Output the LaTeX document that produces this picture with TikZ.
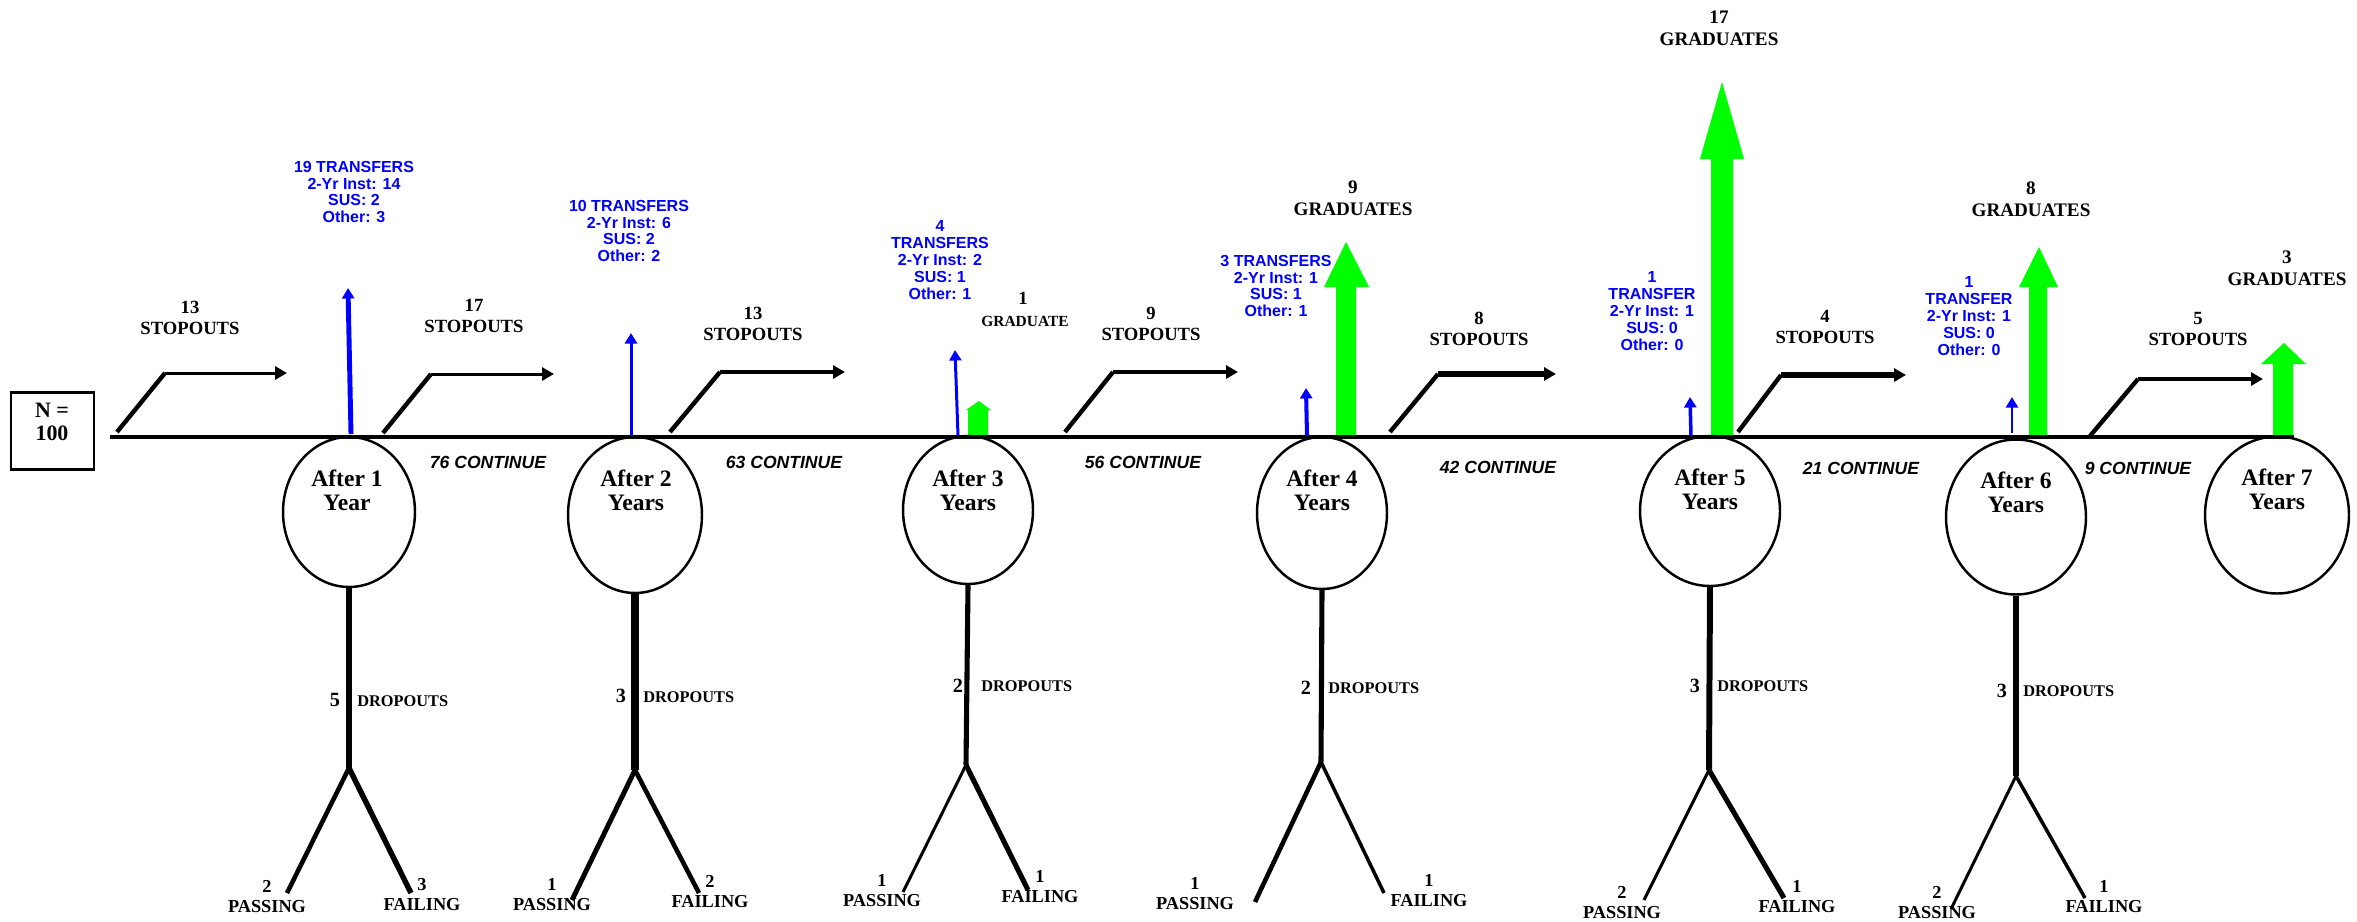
\documentclass[tikz,border=0pt]{standalone}
\usepackage{fontspec}
\setmainfont{Liberation Serif}
\newfontfamily\arialf{Liberation Sans}
\usetikzlibrary{arrows.meta,shapes.geometric}
\definecolor{tblue}{RGB}{0,0,255}
\definecolor{ggreen}{RGB}{0,255,0}
\begin{document}
\begin{tikzpicture}[x=0.02cm,y=-0.02cm,
  mainline/.style={line width=2.3pt},
  yearell/.style={ellipse, draw, line width=1.4pt, inner sep=0pt},
  yeartxt/.style={font=\bfseries\fontsize{13.4}{13.7}\selectfont, align=center, inner sep=0pt},
  ntxt/.style={font=\bfseries\fontsize{12.5}{13.5}\selectfont, align=center, inner sep=0pt},
  stoptxt/.style={font=\bfseries\fontsize{10.6}{12}\selectfont, align=center, inner sep=0pt},
  gradtxt/.style={font=\bfseries\fontsize{10.9}{12.5}\selectfont, align=center, inner sep=0pt},
  stopdiag/.style={line width=2.5pt},
  stoparr/.style={-{Triangle[width=0.26cm,length=0.24cm]}},
  tarrow/.style={draw=tblue, -{Triangle[width=0.24cm,length=0.21cm]}},
  ttxt/.style={text=tblue, font=\arialf\bfseries\fontsize{9.1}{9.6}\selectfont, align=center, inner sep=0pt},
  contxt/.style={font=\arialf\bfseries\itshape\fontsize{10}{12}\selectfont, inner sep=0pt},
  grad/.style={fill=ggreen, draw=none},
  droptxt/.style={font=\bfseries\fontsize{9.3}{10}\selectfont, anchor=west, inner sep=0pt},
  dropnum/.style={font=\bfseries\fontsize{11.5}{12}\selectfont, inner sep=0pt},
  pftxt/.style={font=\bfseries\fontsize{10.4}{11.4}\selectfont, align=center, inner sep=0pt}
]
\useasboundingbox (0,0) rectangle (2357,921);

% N box
\node[draw, line width=1.5pt, minimum width=1.66cm, minimum height=1.54cm, inner sep=0pt] (nbox) at (52.5,431) {};
\node[ntxt] (ntext) at (52,422) {N =\\100};

% green graduate arrows (drawn below the line)
\fill[grad] (968,436) -- (968,410) -- (966,410) -- (979,401) -- (991,410) -- (988,410) -- (988,436) -- cycle;
\fill[grad] (1336,436) -- (1336,287) -- (1324,287) -- (1346,242) -- (1369,287) -- (1356,287) -- (1356,436) -- cycle;
\fill[grad] (1711,436) -- (1711,159) -- (1700,159) -- (1722,82) -- (1744,159) -- (1733,159) -- (1733,436) -- cycle;
\fill[grad] (2029,436) -- (2029,287) -- (2019,287) -- (2039,247) -- (2058,287) -- (2047,287) -- (2047,436) -- cycle;
\fill[grad] (2273,436) -- (2273,364) -- (2261,364) -- (2284,343) -- (2306,364) -- (2293,364) -- (2293,436) -- cycle;

% main line
\coordinate (lineL) at (110,437);
\coordinate (lineR) at (2294,437);
\draw[mainline] (lineL) -- (lineR);

% year ellipses
\node[yearell, minimum width=2.64cm, minimum height=3.0cm] (e1) at (349,512) {};
\node[yearell, minimum width=2.68cm, minimum height=3.12cm] (e2) at (635,515) {};
\node[yearell, minimum width=2.6cm, minimum height=2.96cm] (e3) at (968,510) {};
\node[yearell, minimum width=2.6cm, minimum height=3.04cm] (e4) at (1322,513) {};
\node[yearell, minimum width=2.8cm, minimum height=3.0cm] (e5) at (1710,511) {};
\node[yearell, minimum width=2.8cm, minimum height=3.1cm] (e6) at (2016,517) {};
\node[yearell, minimum width=2.88cm, minimum height=3.14cm] (e7) at (2277,515) {};

\node[yeartxt] (y1) at (347,490) {After 1\\Year};
\node[yeartxt] (y2) at (636,490) {After 2\\Years};
\node[yeartxt] (y3) at (968,490) {After 3\\Years};
\node[yeartxt] (y4) at (1322,490) {After 4\\Years};
\node[yeartxt] (y5) at (1710,489) {After 5\\Years};
\node[yeartxt] (y6) at (2016,492) {After 6\\Years};
\node[yeartxt] (y7) at (2277,489) {After 7\\Years};

% continue labels
\node[contxt] (c1) at (488,462) {76 CONTINUE};
\node[contxt] (c2) at (784,462) {63 CONTINUE};
\node[contxt] (c3) at (1143,462) {56 CONTINUE};
\node[contxt] (c4) at (1498,467) {42 CONTINUE};
\node[contxt] (c5) at (1861,468) {21 CONTINUE};
\node[contxt] (c6) at (2138,468) {9 CONTINUE};

% stopout arrows
\coordinate (s1a) at (117,432); \coordinate (s1b) at (165,373); \coordinate (s1c) at (287,373);
\coordinate (s2a) at (383,433); \coordinate (s2b) at (431,374); \coordinate (s2c) at (554,374);
\coordinate (s3a) at (670,432); \coordinate (s3b) at (720,372); \coordinate (s3c) at (845,372);
\coordinate (s4a) at (1065,432); \coordinate (s4b) at (1113,372); \coordinate (s4c) at (1238,372);
\coordinate (s5a) at (1390,432); \coordinate (s5b) at (1438,374); \coordinate (s5c) at (1556,374);
\coordinate (s6a) at (1738,432); \coordinate (s6b) at (1781,375); \coordinate (s6c) at (1906,375);
\coordinate (s7a) at (2090,436); \coordinate (s7b) at (2138,379); \coordinate (s7c) at (2263,379);
\draw[stopdiag] (s1a) -- (s1b); \draw[stoparr, line width=1.7pt] (s1b) -- (s1c);
\draw[stopdiag] (s2a) -- (s2b); \draw[stoparr, line width=1.7pt] (s2b) -- (s2c);
\draw[stopdiag] (s3a) -- (s3b); \draw[stoparr, line width=2.8pt] (s3b) -- (s3c);
\draw[stopdiag] (s4a) -- (s4b); \draw[stoparr, line width=2.8pt] (s4b) -- (s4c);
\draw[stopdiag] (s5a) -- (s5b); \draw[stoparr, line width=3.1pt] (s5b) -- (s5c);
\draw[stopdiag] (s6a) -- (s6b); \draw[stoparr, line width=3.1pt] (s6b) -- (s6c);
\draw[stopdiag] (s7a) -- (s7b); \draw[stoparr, line width=2.8pt] (s7b) -- (s7c);

\node[stoptxt] (st1) at (190,318) {13\\STOPOUTS};
\node[stoptxt] (st2) at (474,316) {17\\STOPOUTS};
\node[stoptxt] (st3) at (753,324) {13\\STOPOUTS};
\node[stoptxt] (st4) at (1151,324) {9\\STOPOUTS};
\node[stoptxt] (st5) at (1479,329) {8\\STOPOUTS};
\node[stoptxt] (st6) at (1825,327) {4\\STOPOUTS};
\node[stoptxt] (st7) at (2198,329) {5\\STOPOUTS};

% transfer arrows
\coordinate (t1a) at (351,434); \coordinate (t1b) at (348,288);
\coordinate (t2a) at (631,436); \coordinate (t2b) at (631,333);
\coordinate (t3a) at (958,436); \coordinate (t3b) at (955,350);
\coordinate (t4a) at (1307,436); \coordinate (t4b) at (1306,388);
\coordinate (t5a) at (1691,436); \coordinate (t5b) at (1690,397);
\coordinate (t6a) at (2012,433); \coordinate (t6b) at (2012,397);
\draw[tarrow, line width=2.8pt] (t1a) -- (t1b);
\draw[tarrow, line width=1.7pt] (t2a) -- (t2b);
\draw[tarrow, line width=1.7pt] (t3a) -- (t3b);
\draw[tarrow, line width=2.3pt] (t4a) -- (t4b);
\draw[tarrow, line width=2.0pt] (t5a) -- (t5b);
\draw[tarrow, line width=1.2pt] (t6a) -- (t6b);

\node[ttxt] (tt1) at (354,192) {19 TRANSFERS\\2-Yr Inst: 14\\SUS: 2\\Other: 3};
\node[ttxt] (tt2) at (629,231) {10 TRANSFERS\\2-Yr Inst: 6\\SUS: 2\\Other: 2};
\node[ttxt] (tt3) at (940,260) {4\\TRANSFERS\\2-Yr Inst: 2\\SUS: 1\\Other: 1};
\node[ttxt] (tt4) at (1276,286) {3 TRANSFERS\\2-Yr Inst: 1\\SUS: 1\\Other: 1};
\node[ttxt] (tt5) at (1652,311) {1\\TRANSFER\\2-Yr Inst: 1\\SUS: 0\\Other: 0};
\node[ttxt] (tt6) at (1969,316) {1\\TRANSFER\\2-Yr Inst: 1\\SUS: 0\\Other: 0};

% graduate labels
\node[stoptxt] (g3n) at (1023,298) {1};
\node[font=\bfseries\fontsize{8.8}{10}\selectfont, inner sep=0pt] (g3t) at (1025,321) {GRADUATE};
\node[gradtxt] (g4) at (1353,198) {9\\GRADUATES};
\node[gradtxt] (g5) at (1719,28) {17\\GRADUATES};
\node[gradtxt] (g6) at (2031,199) {8\\GRADUATES};
\node[gradtxt] (g7) at (2287,268) {3\\GRADUATES};

% dropout stick figures
\coordinate (h1) at (349,768); \coordinate (p1) at (287,893); \coordinate (f1) at (411,893);
\coordinate (h2) at (635,770); \coordinate (p2) at (572,900); \coordinate (f2) at (699,893);
\coordinate (h3) at (966,765); \coordinate (p3) at (903,892); \coordinate (f3) at (1028,890);
\coordinate (h4) at (1321,762); \coordinate (p4) at (1255,902); \coordinate (f4) at (1384,893);
\coordinate (h5) at (1709,770); \coordinate (p5) at (1644,900); \coordinate (f5) at (1784,898);
\coordinate (h6) at (2016,776); \coordinate (p6) at (1951,909); \coordinate (f6) at (2085,898);

\draw[line width=3.2pt] (e1.south) -- (h1);
\draw[line width=2.6pt] (h1) -- (p1); \draw[line width=3.1pt] (h1) -- (f1);
\draw[line width=4.5pt] (e2.south) -- (h2);
\draw[line width=2.8pt] (h2) -- (p2); \draw[line width=2.6pt] (h2) -- (f2);
\draw[line width=2.9pt] (e3.south) -- (h3);
\draw[line width=1.7pt] (h3) -- (p3); \draw[line width=2.9pt] (h3) -- (f3);
\draw[line width=2.9pt] (e4.south) -- (h4);
\draw[line width=2.6pt] (h4) -- (p4); \draw[line width=2.0pt] (h4) -- (f4);
\draw[line width=3.4pt] (e5.south) -- (h5);
\draw[line width=1.7pt] (h5) -- (p5); \draw[line width=2.9pt] (h5) -- (f5);
\draw[line width=2.9pt] (e6.south) -- (h6);
\draw[line width=1.7pt] (h6) -- (p6); \draw[line width=2.0pt] (h6) -- (f6);

\node[dropnum] (dn1) at (335,700) {5}; \node[droptxt] (dt1) at (357,701) {DROPOUTS};
\node[dropnum] (dn2) at (621,696) {3}; \node[droptxt] (dt2) at (643,697) {DROPOUTS};
\node[dropnum] (dn3) at (958,686) {2}; \node[droptxt] (dt3) at (981,686) {DROPOUTS};
\node[dropnum] (dn4) at (1306,688) {2}; \node[droptxt] (dt4) at (1328,688) {DROPOUTS};
\node[dropnum] (dn5) at (1695,686) {3}; \node[droptxt] (dt5) at (1717,686) {DROPOUTS};
\node[dropnum] (dn6) at (2002,691) {3}; \node[droptxt] (dt6) at (2023,691) {DROPOUTS};

\node[pftxt] (ps1) at (267,897) {2\\PASSING}; \node[pftxt] (fl1) at (422,895) {3\\FAILING};
\node[pftxt] (ps2) at (552,895) {1\\PASSING}; \node[pftxt] (fl2) at (710,892) {2\\FAILING};
\node[pftxt] (ps3) at (882,891) {1\\PASSING}; \node[pftxt] (fl3) at (1040,887) {1\\FAILING};
\node[pftxt] (ps4) at (1195,894) {1\\PASSING}; \node[pftxt] (fl4) at (1429,891) {1\\FAILING};
\node[pftxt] (ps5) at (1622,903) {2\\PASSING}; \node[pftxt] (fl5) at (1797,897) {1\\FAILING};
\node[pftxt] (ps6) at (1937,903) {2\\PASSING}; \node[pftxt] (fl6) at (2104,897) {1\\FAILING};
\end{tikzpicture}
\end{document}
